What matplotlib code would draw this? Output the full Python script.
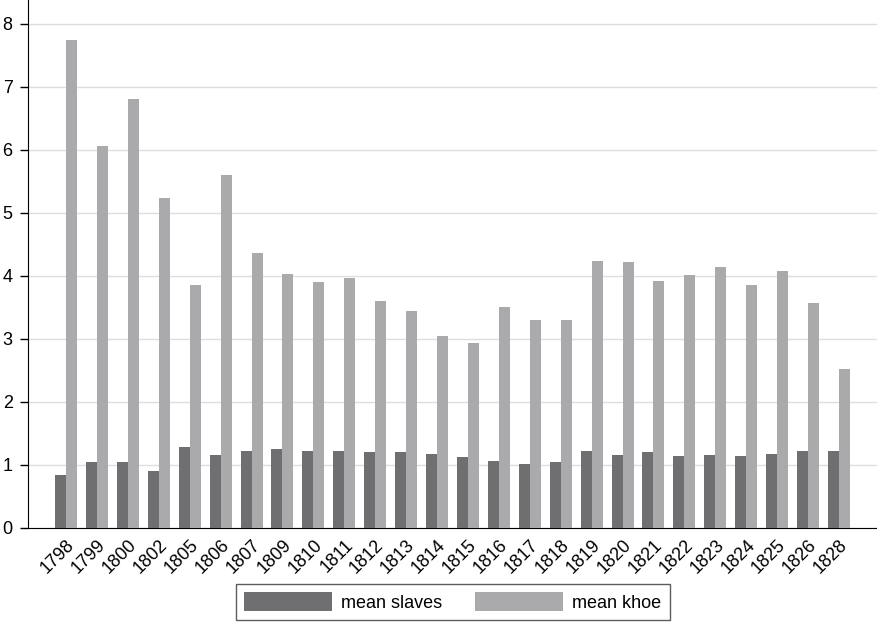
import matplotlib
matplotlib.use('Agg')
import matplotlib.pyplot as plt
import numpy as np

plt.rcParams['font.family'] = ['Liberation Sans', 'DejaVu Sans']

years = ['1798', '1799', '1800', '1802', '1805', '1806', '1807', '1809', '1810',
         '1811', '1812', '1813', '1814', '1815', '1816', '1817', '1818', '1819',
         '1820', '1821', '1822', '1823', '1824', '1825', '1826', '1828']
mean_slaves = [0.84, 1.05, 1.04, 0.90, 1.28, 1.16, 1.22, 1.25, 1.23,
               1.22, 1.20, 1.21, 1.18, 1.12, 1.06, 1.02, 1.04, 1.22,
               1.16, 1.21, 1.15, 1.16, 1.14, 1.17, 1.23, 1.23]
mean_khoe = [7.75, 6.06, 6.81, 5.24, 3.85, 5.60, 4.37, 4.03, 3.90,
             3.96, 3.60, 3.45, 3.05, 2.94, 3.50, 3.30, 3.30, 4.23,
             4.22, 3.92, 4.02, 4.14, 3.86, 4.08, 3.57, 2.53]
yticks = [0, 1, 2, 3, 4, 5, 6, 7, 8]

dark = '#6f6f71'
light = '#aaaaac'

fig = plt.figure(figsize=(8.77, 6.22), dpi=100)
ax = fig.add_axes([28/877, 94/622, 1 - 28/877, 1 - 94/622])

x = np.arange(len(years))
w = 0.356
ax.bar(x - w/2, mean_slaves, w, color=dark, label='mean slaves', zorder=3)
ax.bar(x + w/2, mean_khoe, w, color=light, label='mean khoe', zorder=3)

ax.set_xlim(-1.23, 26.23)
ax.set_ylim(0, 8.38)
ax.set_yticks(yticks)
ax.yaxis.grid(True, color='#dedede', linewidth=1, zorder=0)
ax.set_xticks(x)
ax.set_xticklabels(years, rotation=45, ha='right', rotation_mode='anchor', fontsize=13)
ax.tick_params(axis='x', length=0, pad=6)
ax.tick_params(axis='y', length=6, width=1, labelsize=13, pad=5)
for s in ['top', 'right']:
    ax.spines[s].set_visible(False)
ax.spines['left'].set_color('black')
ax.spines['bottom'].set_color('black')

leg = fig.legend(loc='center', bbox_to_anchor=(452.5/877, 1 - 602/622), ncol=2,
                 fontsize=13, handlelength=4.9, handleheight=1.25,
                 columnspacing=1.8, handletextpad=0.5, fancybox=False,
                 edgecolor='#333333', borderpad=0.45)
leg.get_frame().set_linewidth(1)

fig.savefig('out.png', dpi=100)
